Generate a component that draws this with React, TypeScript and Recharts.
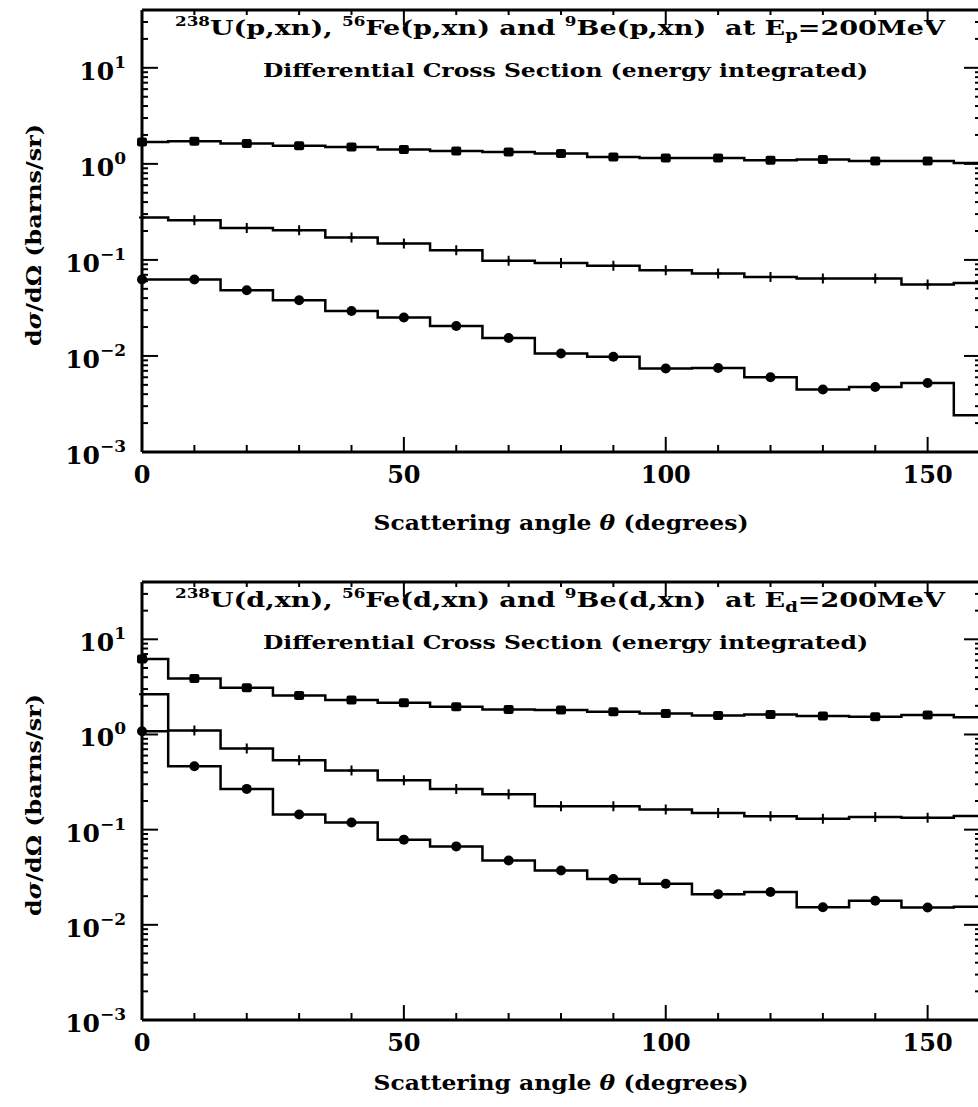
import { LineChart, Line, XAxis, YAxis, ReferenceLine } from 'recharts';

// scattering angle bins (deg), histogram centres
const angles = [0, 10, 20, 30, 40, 50, 60, 70, 80, 90, 100, 110, 120, 130, 140, 150, 160];

// proton beam, Ep = 200 MeV
const pU = [1.69, 1.72, 1.63, 1.54, 1.5, 1.41, 1.36, 1.33, 1.28, 1.18, 1.15, 1.15, 1.09, 1.11, 1.07, 1.07, 1.02];
const pFe = [0.277, 0.259, 0.215, 0.204, 0.171, 0.148, 0.126, 0.098, 0.093, 0.087, 0.078, 0.072, 0.0665, 0.064, 0.064, 0.0555, 0.0575];
const pBe = [0.0625, 0.0625, 0.0483, 0.038, 0.0294, 0.0251, 0.0205, 0.0154, 0.0106, 0.0098, 0.0074, 0.0075, 0.006, 0.00447, 0.00475, 0.00523, 0.00241];

// deuteron beam, Ed = 200 MeV
const dU = [6.2, 3.88, 3.1, 2.57, 2.3, 2.16, 1.96, 1.83, 1.81, 1.73, 1.66, 1.58, 1.62, 1.56, 1.54, 1.6, 1.52];
const dFe = [2.64, 1.1, 0.713, 0.536, 0.418, 0.33, 0.268, 0.236, 0.176, 0.176, 0.163, 0.15, 0.138, 0.13, 0.136, 0.133, 0.139];
const dBe = [1.08, 0.463, 0.268, 0.144, 0.119, 0.0785, 0.0667, 0.0475, 0.0373, 0.0303, 0.027, 0.021, 0.0221, 0.0153, 0.0179, 0.0152, 0.0155];

const xMajor = [0, 50, 100, 150];
const xMinor = [10, 20, 30, 40, 60, 70, 80, 90, 110, 120, 130, 140, 160];
const yMajor = [0.001, 0.01, 0.1, 1, 10];
const yMinor = [
  0.002, 0.003, 0.004, 0.005, 0.006, 0.007, 0.008, 0.009,
  0.02, 0.03, 0.04, 0.05, 0.06, 0.07, 0.08, 0.09,
  0.2, 0.3, 0.4, 0.5, 0.6, 0.7, 0.8, 0.9,
  2, 3, 4, 5, 6, 7, 8, 9, 20, 30, 40,
];

const SERIF = '"DejaVu Serif", serif';
const X_MIN = 0;
const X_MAX = 160;
const Y_MIN = 0.001;
const Y_MAX = 40;
const X_DOMAIN: [number, number] = [X_MIN, X_MAX];
const Y_DOMAIN: [number, number] = [Y_MIN, Y_MAX];
const frame = { stroke: '#000', strokeWidth: 3 };
const lastIdx = angles.length - 1;

// inward tick lengths, in axis units (deg along x, factor along log y)
const LEN_Y_MAJ = 3.05;
const LEN_Y_MIN = 1.15;
const LEN_R_MIN = 0.95;
const FAC_X_MAJ = 1.435;
const FAC_X_MIN = 1.184;
const FAC_T_MIN = 1.128;

const YTick = (props: any) => {
  const { x, y, payload } = props;
  const e = Math.round(Math.log10(payload.value));
  return (
    <text x={x - 16} y={y + 12} textAnchor="end" fontFamily={SERIF} fontWeight="bold" fontSize={25} fill="#000">
      10<tspan dy={-12} fontSize={17}>{e < 0 ? `\u2212${-e}` : `${e}`}</tspan>
    </text>
  );
};

const XTick = (props: any) => {
  const { x, y, payload } = props;
  return (
    <text x={x} y={y + 31} textAnchor="middle" fontFamily={SERIF} fontWeight="bold" fontSize={24} fill="#000">
      {payload.value}
    </text>
  );
};

const squareDot = (p: any) => {
  if (p.index === lastIdx) return <g key={`s${p.index}`} />;
  return <rect key={`s${p.index}`} x={p.cx - 5} y={p.cy - 4.5} width={10} height={9} rx={2} fill="#000" />;
};
const plusDot = (p: any) => {
  if (p.index === lastIdx) return <g key={`p${p.index}`} />;
  return (
    <path key={`p${p.index}`} d={`M${p.cx},${p.cy - 5}V${p.cy + 5}M${p.cx - 3},${p.cy}H${p.cx + 3}`} stroke="#000" strokeWidth={2} />
  );
};
const circleDot = (p: any) => {
  if (p.index === lastIdx) return <g key={`c${p.index}`} />;
  return <circle key={`c${p.index}`} cx={p.cx} cy={p.cy} r={5} fill="#000" />;
};

function tickSegment(key: string, a: { x: number; y: number }, b: { x: number; y: number }) {
  return (
    <ReferenceLine
      key={key}
      xAxisId="x"
      yAxisId="y"
      segment={[a, b]}
      stroke="#000"
      strokeWidth={2}
      ifOverflow="visible"
    />
  );
}

type PanelProps = {
  top: number;
  height: number;
  marginTop: number;
  axisH: number;
  titleDy: number;
  beam: string;
  u: number[];
  fe: number[];
  be: number[];
};

function Panel({ top, height, marginTop, axisH, titleDy, beam, u, fe, be }: PanelProps) {
  const data = angles.map((a, i) => ({ angle: a, U: u[i], Fe: fe[i], Be: be[i] }));
  const rx = `(${beam},xn)`;

  // inward tick marks on all four sides of the frame
  const ticks = [
    ...yMajor.map((v) => tickSegment(`lM${v}`, { x: X_MIN, y: v }, { x: X_MIN + LEN_Y_MAJ, y: v })),
    ...yMinor.map((v) => tickSegment(`lm${v}`, { x: X_MIN, y: v }, { x: X_MIN + LEN_Y_MIN, y: v })),
    ...yMajor.map((v) => tickSegment(`rM${v}`, { x: X_MAX, y: v }, { x: X_MAX - LEN_Y_MAJ, y: v })),
    ...yMinor.map((v) => tickSegment(`rm${v}`, { x: X_MAX, y: v }, { x: X_MAX - LEN_R_MIN, y: v })),
    ...xMajor.map((a) => tickSegment(`bM${a}`, { x: a, y: Y_MIN }, { x: a, y: Y_MIN * FAC_X_MAJ })),
    ...xMinor.map((a) => tickSegment(`bm${a}`, { x: a, y: Y_MIN }, { x: a, y: Y_MIN * FAC_X_MIN })),
    ...xMajor.map((a) => tickSegment(`tM${a}`, { x: a, y: Y_MAX }, { x: a, y: Y_MAX / FAC_X_MAJ })),
    ...xMinor.map((a) => tickSegment(`tm${a}`, { x: a, y: Y_MAX }, { x: a, y: Y_MAX / FAC_T_MIN })),
  ];

  return (
    <div style={{ position: 'absolute', left: 0, top, width: 980, height }}>
      <LineChart width={980} height={height} data={data} margin={{ top: marginTop, right: 0, bottom: 0, left: 0 }}>
        <XAxis
          xAxisId="x"
          dataKey="angle"
          type="number"
          domain={X_DOMAIN}
          ticks={xMajor}
          interval={0}
          height={axisH}
          tickSize={0}
          tickMargin={0}
          tickLine={false}
          axisLine={frame}
          tick={<XTick />}
          label={{
            content: (p: any) => (
              <text
                x={p.viewBox.x + p.viewBox.width / 2}
                y={p.viewBox.y + titleDy}
                textAnchor="middle"
                fontFamily={SERIF}
                fontWeight="bold"
                fontSize={20}
                textLength={375}
                lengthAdjust="spacingAndGlyphs"
                fill="#000"
              >
                Scattering angle <tspan fontStyle="italic">θ</tspan> (degrees)
              </text>
            ),
          }}
        />
        <YAxis
          yAxisId="y"
          scale="log"
          type="number"
          domain={Y_DOMAIN}
          ticks={yMajor}
          interval={0}
          width={142}
          tickSize={0}
          tickMargin={0}
          tickLine={false}
          axisLine={frame}
          tick={<YTick />}
          label={{
            content: (p: any) => {
              const cy = p.viewBox.y + p.viewBox.height / 2 + 4;
              return (
                <text
                  x={41}
                  y={cy}
                  transform={`rotate(-90, 41, ${cy})`}
                  textAnchor="middle"
                  fontFamily={SERIF}
                  fontWeight="bold"
                  fontSize={21}
                  textLength={222}
                  lengthAdjust="spacingAndGlyphs"
                  fill="#000"
                >
                  d<tspan fontStyle="italic">σ</tspan>/dΩ (barns/sr)
                </text>
              );
            },
          }}
        />

        {/* top and right edges of the frame */}
        <ReferenceLine xAxisId="x" yAxisId="y" y={Y_MAX} stroke="#000" strokeWidth={3} ifOverflow="visible" />
        <ReferenceLine xAxisId="x" yAxisId="y" x={X_MAX} stroke="#000" strokeWidth={3} ifOverflow="visible" />
        {ticks}

        <Line xAxisId="x" yAxisId="y" dataKey="U" type="step" stroke="#000" strokeWidth={2.5} dot={squareDot} activeDot={false} isAnimationActive={false} />
        <Line xAxisId="x" yAxisId="y" dataKey="Fe" type="step" stroke="#000" strokeWidth={2.5} dot={plusDot} activeDot={false} isAnimationActive={false} />
        <Line xAxisId="x" yAxisId="y" dataKey="Be" type="step" stroke="#000" strokeWidth={2.5} dot={circleDot} activeDot={false} isAnimationActive={false} />
      </LineChart>

      <svg width={980} height={height} style={{ position: 'absolute', left: 0, top: 0, pointerEvents: 'none' }}>
        <text
          x={175}
          y={marginTop + 25}
          fontFamily={SERIF}
          fontWeight="bold"
          fontSize={21}
          textLength={770}
          lengthAdjust="spacingAndGlyphs"
          fill="#000"
          style={{ whiteSpace: 'pre' }}
        >
          <tspan fontSize={13} dy={-9}>238</tspan>
          <tspan dy={9}>{`U${rx}, `}</tspan>
          <tspan fontSize={13} dy={-9}>56</tspan>
          <tspan dy={9}>{`Fe${rx} and `}</tspan>
          <tspan fontSize={13} dy={-9}>9</tspan>
          <tspan dy={9}>{`Be${rx}  at E`}</tspan>
          <tspan fontSize={14} dy={5}>{beam}</tspan>
          <tspan dy={-5}>=200MeV</tspan>
        </text>
        <text
          x={263}
          y={marginTop + 67}
          fontFamily={SERIF}
          fontWeight="bold"
          fontSize={19}
          textLength={605}
          lengthAdjust="spacingAndGlyphs"
          fill="#000"
        >
          Differential Cross Section (energy integrated)
        </text>
      </svg>
    </div>
  );
}

export default function App() {
  return (
    <div style={{ position: 'absolute', left: 0, top: 0, width: 978, height: 1107, overflow: 'hidden', background: '#fff' }}>
      <Panel top={0} height={553} marginTop={10} axisH={101} titleDy={78} beam="p" u={pU} fe={pFe} be={pBe} />
      <Panel top={553} height={554} marginTop={29} axisH={87} titleDy={70} beam="d" u={dU} fe={dFe} be={dBe} />
    </div>
  );
}
